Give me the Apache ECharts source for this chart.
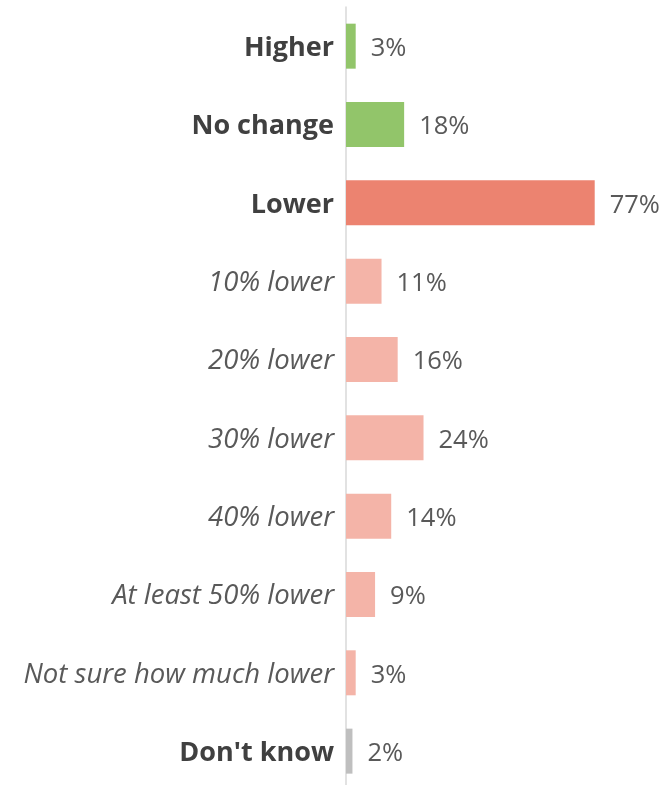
<!DOCTYPE html>
<html>
<head>
<meta charset="utf-8">
<script src="https://cdn.jsdelivr.net/npm/echarts@6/dist/echarts.min.js"></script>
<style>
  html, body { margin: 0; padding: 0; background: #ffffff; }
  #chart { width: 669px; height: 785px; }
</style>
</head>
<body>
<div id="chart"></div>
<script>
// Expected change in spending, share of respondents (%)
const categories = [
  "Higher", "No change", "Lower",
  "10% lower", "20% lower", "30% lower", "40% lower",
  "At least 50% lower", "Not sure how much lower",
  "Don't know"
];
const values = [3, 18, 77, 11, 16, 24, 14, 9, 3, 2];
// Headline rows are bold; breakdown of "Lower" is italic
const headline = ["Higher", "No change", "Lower", "Don't know"];
const barColors = {
  "Higher": "#92C56A",
  "No change": "#92C56A",
  "Lower": "#EC8370",
  "Don't know": "#BFBFBF"
};
const subColor = "#F4B4A8";

const FONT = "'Open Sans', 'Noto Sans', sans-serif";

const chart = echarts.init(document.getElementById('chart'), null, { renderer: 'canvas' });

chart.setOption({
  animation: false,
  backgroundColor: '#ffffff',
  grid: {
    left: 346, top: 7, width: 323, height: 783.3,
    containLabel: false,
    outerBoundsMode: 'none'
  },
  xAxis: {
    type: 'value', min: 0, max: 100,
    show: false
  },
  yAxis: {
    type: 'category',
    data: categories,
    inverse: true,
    axisLine: { show: true, lineStyle: { color: '#d9d9d9', width: 1.5 } },
    axisTick: { show: false },
    axisLabel: {
      margin: 12,
      formatter: function (v) {
        return headline.indexOf(v) >= 0 ? '{b|' + v + '}' : '{i|' + v + '}';
      },
      rich: {
        b: { fontFamily: FONT, fontSize: 27, fontWeight: 'bold', color: '#404040', padding: [4, 0, 0, 0] },
        i: { fontFamily: FONT, fontSize: 27.5, fontStyle: 'italic', color: '#595959', padding: [4, 0, 0, 0] }
      }
    }
  },
  series: [{
    type: 'bar',
    barWidth: 45,
    data: categories.map(function (c, i) {
      return { value: values[i], itemStyle: { color: barColors[c] || subColor } };
    }),
    label: {
      show: true,
      position: 'right',
      distance: 15,
      offset: [0, 2.5],
      formatter: '{c}%',
      fontFamily: FONT,
      fontSize: 25.5,
      color: '#595959'
    }
  }]
});
</script>
</body>
</html>
